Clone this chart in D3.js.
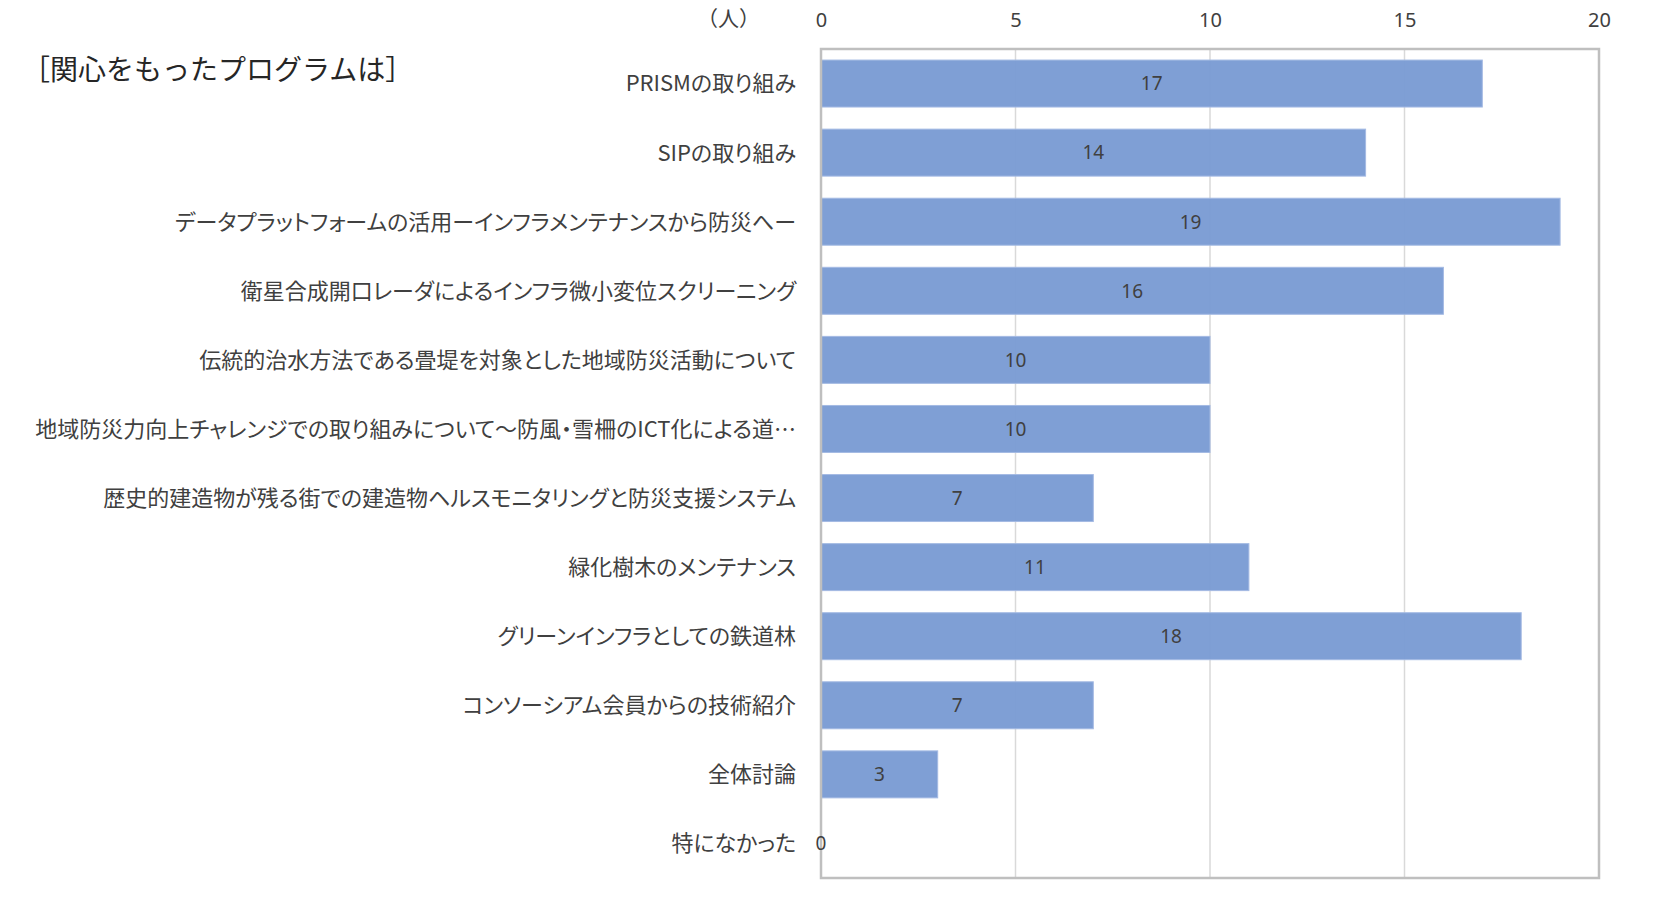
<!DOCTYPE html>
<html><head><meta charset="utf-8">
<script src="https://cdn.jsdelivr.net/npm/d3@7"></script>
<style>
html,body{margin:0;padding:0;background:#fff;}
svg{display:block;font-family:"Noto Sans CJK JP","Noto Sans",sans-serif;}
.cat text{font-feature-settings:"palt";}
</style></head>
<body><svg id="c" width="1660" height="915"></svg>
<script>
const title = "［関心をもったプログラムは］";
const unitLabel = "（人）";
const categories = [
  "PRISMの取り組み",
  "SIPの取り組み",
  "データプラットフォームの活用ーインフラメンテナンスから防災へー",
  "衛星合成開口レーダによるインフラ微小変位スクリーニング",
  "伝統的治水方法である畳堤を対象とした地域防災活動について",
  "地域防災力向上チャレンジでの取り組みについて～防風・雪柵のICT化による道…",
  "歴史的建造物が残る街での建造物ヘルスモニタリングと防災支援システム",
  "緑化樹木のメンテナンス",
  "グリーンインフラとしての鉄道林",
  "コンソーシアム会員からの技術紹介",
  "全体討論",
  "特になかった"
];
const values = [17, 14, 19, 16, 10, 10, 7, 11, 18, 7, 3, 0];
const tickValues = [0, 5, 10, 15, 20];

const svg = d3.select("#c");
const L = 821, R = 1599, T = 49, B = 878;

const x = d3.scaleLinear().domain([0, 20]).range([L, R]);
const y = d3.scaleBand().domain(categories).range([T, B]).paddingInner(0.32).paddingOuter(0.16);

const textColor = "#404040";

// gridlines
svg.append("g").selectAll("line").data(tickValues.filter(d => d > 0 && d < 20)).join("line")
  .attr("x1", d => x(d)).attr("x2", d => x(d)).attr("y1", T).attr("y2", B)
  .attr("stroke", "#d9d9d9").attr("stroke-width", 1.5);

// bars
svg.append("g").selectAll("rect").data(values).join("rect")
  .attr("x", x(0)).attr("y", (d, i) => y(categories[i]))
  .attr("width", d => x(d) - x(0)).attr("height", y.bandwidth())
  .attr("fill", "#7b9cd4").attr("fill-opacity", 0.97)
  .attr("stroke", "#a4bae3").attr("stroke-width", 1);

// plot border
svg.append("rect").attr("x", L).attr("y", T).attr("width", R - L).attr("height", B - T)
  .attr("fill", "none").attr("stroke", "#bfbfbf").attr("stroke-width", 2.5);

// top axis
const ax = d3.axisTop(x).tickValues(tickValues).tickSize(0).tickPadding(0);
const gAx = svg.append("g").attr("transform", `translate(0,${27})`).call(ax);
gAx.select(".domain").remove();
gAx.selectAll("text").attr("font-size", 20).attr("fill", textColor)
  .attr("font-family", "'Noto Sans','Noto Sans CJK JP',sans-serif").attr("dy", "0");

// category labels
const ay = d3.axisLeft(y).tickSize(0).tickPadding(0);
const gAy = svg.append("g").attr("class", "cat").attr("transform", `translate(${796},0)`).call(ay);
gAy.select(".domain").remove();
gAy.selectAll("text").attr("font-size", 22).attr("fill", textColor)
  .attr("font-family", "'Noto Sans CJK JP',sans-serif").attr("dy", "0.36em");

// data labels
svg.append("g").selectAll("text").data(values).join("text")
  .attr("x", d => x(d / 2)).attr("y", (d, i) => y(categories[i]) + y.bandwidth() / 2)
  .attr("dy", "0.36em").attr("text-anchor", "middle")
  .attr("font-size", 19).attr("fill", textColor)
  .attr("font-family", "'Noto Sans','Noto Sans CJK JP',sans-serif")
  .text(d => d);

// title
svg.append("text").attr("x", 22).attr("y", 70).attr("dy", "0.36em")
  .attr("font-size", 28).attr("fill", "#262626").text(title);

// unit
svg.append("text").attr("x", 760).attr("y", 18).attr("dy", "0.36em").attr("text-anchor", "end")
  .attr("font-size", 21).attr("fill", textColor).text(unitLabel);
</script></body></html>
